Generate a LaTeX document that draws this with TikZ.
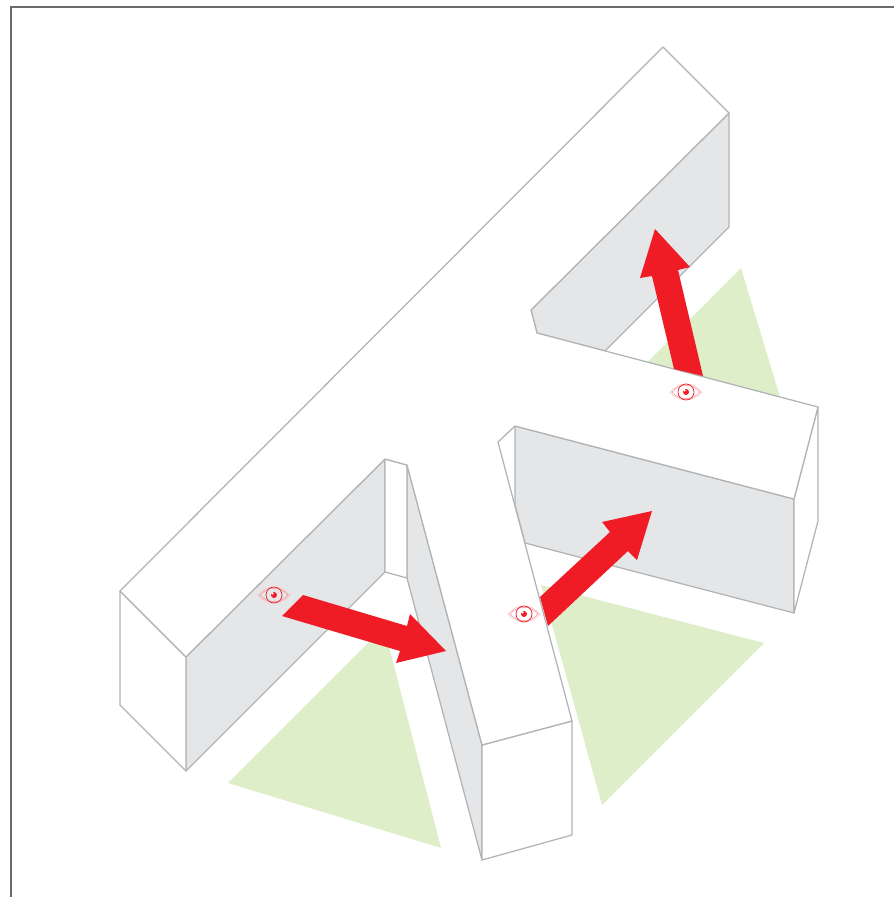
\documentclass[tikz,border=0pt]{standalone}
\usepackage{tikz}
\usepackage{xcolor}
\definecolor{WallGrey}{HTML}{E5E6E8}
\definecolor{EdgeGrey}{HTML}{B2B3B5}
\definecolor{FrameGrey}{HTML}{6B6B6B}
\definecolor{ViewGreen}{HTML}{DDEEC9}
\definecolor{SightRed}{HTML}{EF1C25}
\tikzset{
  topface/.style={draw=EdgeGrey, fill=white, line width=1.25pt, line join=round},
  wallface/.style={draw=EdgeGrey, fill=WallGrey, line width=1.25pt, line join=round},
  viewzone/.style={fill=ViewGreen},
  sightarrow/.style={fill=SightRed},
  framerule/.style={draw=FrameGrey, line width=1.5pt},
  eyemark/.pic={
    \draw[SightRed!35, line width=0.4pt] (-16,0.5) .. controls (-7,-11) and (7,-11) .. (16,0.5) .. controls (7,10) and (-7,10) .. cycle;
    \draw[SightRed!60, line width=0.4pt] (-14,0) .. controls (-6,-9) and (6,-9) .. (14,0) .. controls (6,9) and (-6,9) .. cycle;
    \draw[SightRed, line width=0.7pt] (0,0) circle (8);
    \fill[SightRed] (0,0) circle (3);
    \fill[white] (-1.5,-1.6) circle (1.3);
  }
}
\begin{document}
\begin{tikzpicture}[x=1pt, y=-1pt]
    \useasboundingbox (0,0) rectangle (894,897);
    \draw[framerule] (11,897) -- (11,7) -- (894,7);

    \fill[viewzone] (741,268) -- (790,430) -- (610,400) -- cycle;
    \fill[viewzone] (541,585) -- (764,643) -- (602,805) -- cycle;
    \fill[viewzone] (384,627) -- (441,848) -- (228,783) -- cycle;

    \draw[wallface] (729,113) -- (729,227) -- (605,351) -- (537,333) -- (531,310) -- cycle;
    \draw[wallface] (515,426) -- (794,499) -- (794,613) -- (525,543) -- (515,505) -- cycle;
    \draw[wallface] (186,657) -- (385,459) -- (385,572) -- (186,771) -- cycle;
    \draw[wallface] (407,465) -- (482,745) -- (482,860) -- (407,578) -- cycle;
    \draw[topface] (385,459) -- (407,465) -- (407,578) -- (385,572) -- cycle;
    \draw[topface] (120,591) -- (186,657) -- (186,771) -- (120,705) -- cycle;
    \draw[topface] (482,745) -- (572,721) -- (572,835) -- (482,860) -- cycle;
    \draw[topface] (818,407) -- (818,521) -- (794,613) -- (794,499) -- cycle;
    \draw[topface] (120,591) -- (663,47) -- (729,113) -- (531,310) -- (537,333) -- (818,407) -- (794,499) -- (515,426) -- (498,442) -- (572,721) -- (482,745) -- (407,465) -- (385,459) -- (186,657) -- cycle;

    \fill[sightarrow] (303,595) -- (407,626) -- (410,614) -- (446,651) -- (396,663) -- (400,651) -- (282,616) -- cycle;
    \fill[sightarrow] (540,597) -- (610,532) -- (602,522) -- (652,511) -- (637,560) -- (628,551) -- (548,626) -- cycle;
    \fill[sightarrow] (674,369) -- (652,276) -- (640,278) -- (655,229) -- (690,267) -- (678,270) -- (703,376) -- cycle;

    \pic at (274,595) {eyemark};
    \pic at (524,614) {eyemark};
    \pic at (686,392) {eyemark};
  \end{tikzpicture}
\end{document}
